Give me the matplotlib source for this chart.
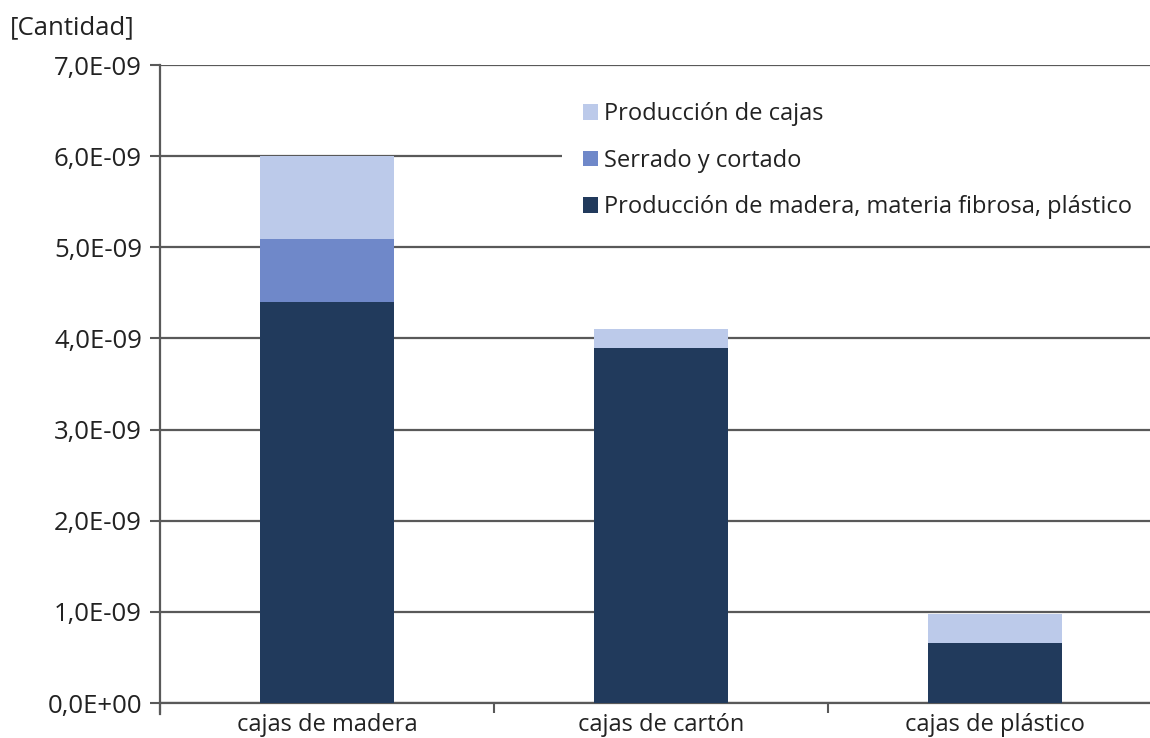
import matplotlib.pyplot as plt
from matplotlib.ticker import FuncFormatter, FixedLocator
from matplotlib.patches import Patch

plt.rcParams['font.family'] = ['Open Sans', 'DejaVu Sans']

# data
categories = ['cajas de madera', 'cajas de cartón', 'cajas de plástico']
produccion_material = [4.40e-9, 3.90e-9, 0.66e-9]
serrado = [0.69e-9, 0.0, 0.0]
produccion_cajas = [0.91e-9, 0.20e-9, 0.32e-9]
labels = ['Producción de cajas', 'Serrado y cortado',
          'Producción de madera, materia fibrosa, plástico']
colors = ['#bccaea', '#6f88c9', '#213a5c']

W, H = 1150, 738
fig = plt.figure(figsize=(W / 100, H / 100), dpi=100)
ax = fig.add_axes([160 / W, (H - 703) / H, (W - 160) / W, (703 - 65) / H])

x = list(range(len(categories)))
bw = 0.4
ax.bar(x, produccion_material, bw, color=colors[2], zorder=3)
bottom2 = produccion_material
ax.bar(x, serrado, bw, bottom=bottom2, color=colors[1], zorder=3)
bottom3 = [a + b for a, b in zip(produccion_material, serrado)]
ax.bar(x, produccion_cajas, bw, bottom=bottom3, color=colors[0], zorder=3)

# axes right edge is cut by the image border
ax.set_xlim(-0.5, -0.5 + (W - 160) / 334)
ax.set_ylim(0, 7e-9)
ax.set_yticks([i * 1e-9 for i in range(8)])
ax.yaxis.set_major_formatter(FuncFormatter(lambda v, p: f"{v:.1E}".replace('.', ',')))

ax.set_xticks(x)
ax.set_xticklabels(categories)
ax.xaxis.set_minor_locator(FixedLocator([-0.5, 0.5, 1.5, 2.5]))
ax.tick_params(axis='x', which='major', length=0, pad=7, labelsize=17, colors='#222222')
ax.tick_params(axis='x', which='minor', length=7, width=1.5, color='#595959', direction='out')
ax.tick_params(axis='y', length=7, width=1.5, color='#595959', labelsize=18.5, pad=6,
               labelcolor='#222222')

ax.yaxis.grid(True, color='#595959', linewidth=1.6, zorder=0)
ax.set_axisbelow(True)
for s in ['top', 'right']:
    ax.spines[s].set_visible(False)
for s in ['left', 'bottom']:
    ax.spines[s].set_color('#595959')
    ax.spines[s].set_linewidth(1.6)
ax.spines['left'].set_bounds(-0.12e-9, 7e-9)

fig.text(10 / W, (H - 28) / H, '[Cantidad]', fontsize=18.5, color='#222222',
         ha='left', va='center')

handles = [Patch(facecolor=c, edgecolor='none') for c in colors]
leg = ax.legend(handles, labels, loc='upper left',
                bbox_to_anchor=(562 / W, (H - 81) / H), bbox_transform=fig.transFigure,
                frameon=True, facecolor='white', edgecolor='none', framealpha=1,
                fancybox=False, fontsize=17, handlelength=0.64, handleheight=0.64,
                handletextpad=0.25, labelspacing=0.95, borderpad=0.9, borderaxespad=0)
leg.set_zorder(5)
for t in leg.get_texts():
    t.set_color('#222222')

fig.savefig('out.png', dpi=100)
